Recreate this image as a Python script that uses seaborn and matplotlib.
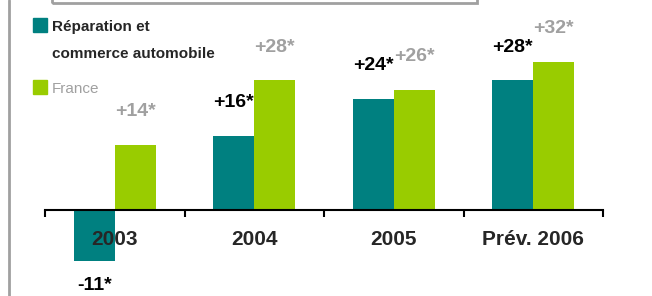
import pandas as pd
import seaborn as sns
import matplotlib.pyplot as plt
from matplotlib.patches import Rectangle
from matplotlib.lines import Line2D

# Données du graphique
annees = ['2003', '2004', '2005', 'Prév. 2006']
series = ['Réparation et\ncommerce automobile', 'France']
reparation = [-11, 16, 24, 28]
france = [14, 28, 26, 32]

couleurs = ['#008080', '#99cc00']
gris = '#a0a0a0'

df = pd.DataFrame({
    'annee': annees * 2,
    'serie': [series[0]] * len(annees) + [series[1]] * len(annees),
    'valeur': reparation + france,
})

sns.set_style('white')
plt.rcParams['font.family'] = ['Liberation Sans', 'DejaVu Sans']

W, H = 652, 296
fig = plt.figure(figsize=(W / 100, H / 100), dpi=100)
ax = fig.add_axes([45 / W, 0, 558 / W, 1])

sns.barplot(data=df, x='annee', y='valeur', hue='serie', palette=couleurs,
            saturation=1, width=0.59, legend=False, linewidth=0, ax=ax)

ax.set_xlim(-0.5, len(annees) - 0.5)
ax.set_ylim(-18.6, 45.4)
ax.set_xlabel('')
ax.set_ylabel('')
ax.set_yticks([])
ax.set_axisbelow(False)

# Axe horizontal au niveau zéro, petites graduations entre les groupes
for s in ['top', 'right', 'left']:
    ax.spines[s].set_visible(False)
ax.spines['bottom'].set_position(('data', 0))
ax.spines['bottom'].set_color('black')
ax.spines['bottom'].set_linewidth(1.5)
ax.set_xticks(range(len(annees)))
ax.set_xticklabels(annees, fontsize=15, fontweight='bold')
ax.set_xticks([i - 0.5 for i in range(len(annees) + 1)], minor=True)
ax.tick_params(axis='x', which='major', length=0, pad=14.5)
ax.tick_params(axis='x', which='minor', length=5, width=1.5, color='black',
               direction='out', bottom=True)

# Étiquettes de valeurs
couleurs_txt = ['black', gris]
for cont, col in zip(ax.containers, couleurs_txt):
    for bar in cont:
        v = bar.get_height()
        x = bar.get_x() + bar.get_width() / 2
        dy = 24 if v >= 0 else -18
        ax.annotate(f'{v:+.0f}*'.replace('+-', '-'), xy=(x, v), xytext=(0, dy),
                    textcoords='offset points', ha='center', va='center',
                    fontsize=14, fontweight='bold', color=col)

# Légende dessinée à la main
fig.add_artist(Rectangle((33 / W, 1 - 32 / H), 14 / W, 14 / H, color=couleurs[0],
                         transform=fig.transFigure))
fig.add_artist(Rectangle((33 / W, 1 - 94 / H), 14 / W, 14 / H, color=couleurs[1],
                         transform=fig.transFigure))
fig.text(52 / W, 1 - 31 / H, 'Réparation et', fontsize=11, fontweight='bold',
         va='baseline', ha='left')
fig.text(52 / W, 1 - 58 / H, 'commerce automobile', fontsize=11, fontweight='bold',
         va='baseline', ha='left')
fig.text(52 / W, 1 - 93 / H, 'France', fontsize=11, color=gris,
         va='baseline', ha='left')

# Cadres gris
fig.add_artist(Rectangle((52 / W, 1 - 3 / H), (477 - 52) / W, 0.2, fill=False,
                         ec=gris, lw=2, transform=fig.transFigure, clip_on=False))
fig.add_artist(Line2D([8.5 / W, 8.5 / W], [0, 1], color=gris, lw=2,
                      transform=fig.transFigure))

fig.savefig('out.png', dpi=100)
